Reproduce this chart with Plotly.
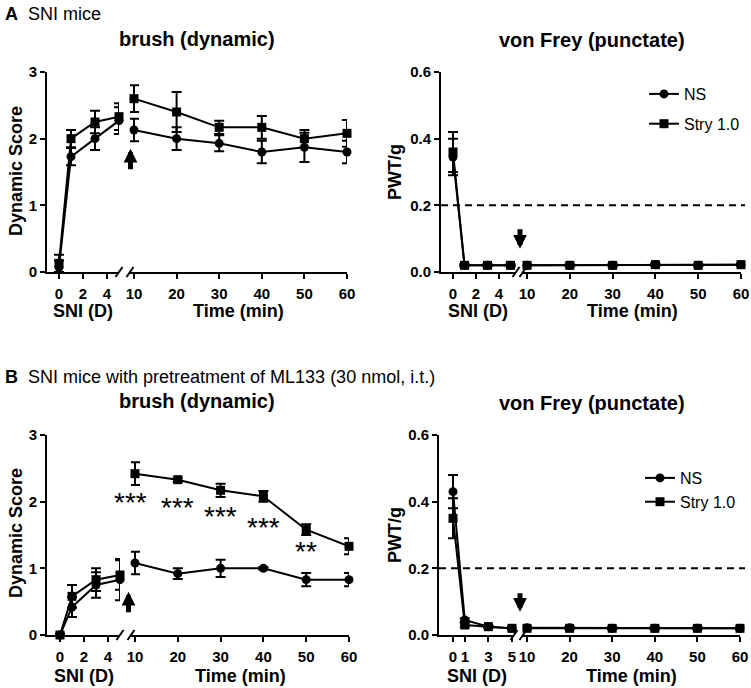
import plotly.graph_objects as go

W, H = 751, 688
FONT = "Liberation Sans"

# ---------------- data ----------------
days = [0, 1, 3, 5]
mins = [10, 20, 30, 40, 50, 60]

# Panel A - brush (dynamic score)
a_br_ns_d = [0.07, 1.73, 2.0, 2.27]
a_br_ns_d_err = [0.1, 0.13, 0.17, 0.2]
a_br_ns_m = [2.13, 2.0, 1.93, 1.8, 1.87, 1.8]
a_br_ns_m_err = [0.17, 0.17, 0.12, 0.17, 0.22, 0.17]
a_br_st_d = [0.13, 2.0, 2.25, 2.33]
a_br_st_d_err = [0.13, 0.13, 0.17, 0.2]
a_br_st_m = [2.6, 2.4, 2.17, 2.17, 2.0, 2.08]
a_br_st_m_err = [0.2, 0.3, 0.1, 0.17, 0.13, 0.2]

# Panel A - von Frey (PWT/g)
a_vf_ns_d = [0.345, 0.02, 0.02, 0.02]
a_vf_ns_d_err = [0.055, 0.003, 0.003, 0.003]
a_vf_ns_m = [0.02, 0.02, 0.02, 0.022, 0.02, 0.022]
a_vf_ns_m_err = [0.003, 0.003, 0.003, 0.003, 0.003, 0.003]
a_vf_st_d = [0.36, 0.02, 0.02, 0.02]
a_vf_st_d_err = [0.06, 0.003, 0.003, 0.003]
a_vf_st_m = [0.02, 0.02, 0.02, 0.022, 0.02, 0.022]
a_vf_st_m_err = [0.003, 0.003, 0.003, 0.003, 0.003, 0.003]

# Panel B - brush (dynamic score)
b_br_ns_d = [0.0, 0.42, 0.75, 0.83]
b_br_ns_d_err = [0.02, 0.15, 0.19, 0.31]
b_br_ns_m = [1.08, 0.92, 1.0, 1.0, 0.83, 0.83]
b_br_ns_m_err = [0.17, 0.08, 0.13, 0.02, 0.1, 0.1]
b_br_st_d = [0.0, 0.58, 0.83, 0.9]
b_br_st_d_err = [0.02, 0.17, 0.17, 0.22]
b_br_st_m = [2.42, 2.33, 2.17, 2.08, 1.58, 1.33]
b_br_st_m_err = [0.17, 0.03, 0.1, 0.08, 0.08, 0.12]

# Panel B - von Frey (PWT/g)
b_vf_ns_d = [0.43, 0.045, 0.025, 0.02]
b_vf_ns_d_err = [0.05, 0.005, 0.003, 0.003]
b_vf_ns_m = [0.022, 0.022, 0.02, 0.02, 0.02, 0.02]
b_vf_ns_m_err = [0.003, 0.003, 0.003, 0.003, 0.003, 0.003]
b_vf_st_d = [0.35, 0.03, 0.025, 0.02]
b_vf_st_d_err = [0.06, 0.005, 0.003, 0.003]
b_vf_st_m = [0.02, 0.02, 0.02, 0.02, 0.02, 0.02]
b_vf_st_m_err = [0.003, 0.003, 0.003, 0.003, 0.003, 0.003]

threshold = 0.2
sig_x = [10, 20, 30, 40, 50]
sig_y = [2.05, 1.98, 1.84, 1.68, 1.32]
sig_labels = ["***", "***", "***", "***", "**"]

series_names = ["NS", "Stry 1.0"]
symbols = ["circle", "square"]

# ---------------- layout geometry (window pixels) ----------------
def lin_range(p0, p1, va, pa, vb, pb):
    s = (vb - va) / (pb - pa)
    return [va + (p0 - pa) * s, va + (p1 - pa) * s]

panels = [
    dict(ypx=(72, 272), yrange=[0, 3], ytick=[0, 1, 2, 3], yfmt="{:.0f}",
         left=(47, 119, 0, 59, 4, 107), right=(130, 347, 10, 134, 60, 347),
         dticks=[0, 2, 4],
         data=[(a_br_ns_d, a_br_ns_d_err, a_br_ns_m, a_br_ns_m_err),
               (a_br_st_d, a_br_st_d_err, a_br_st_m, a_br_st_m_err)],
         legend=None),
    dict(ypx=(72, 272), yrange=[0, 0.6], ytick=[0, 0.2, 0.4, 0.6], yfmt="{:.1f}",
         left=(441, 516, 0, 453, 4, 499), right=(523, 741, 10, 527, 60, 741),
         dticks=[0, 2, 4],
         data=[(a_vf_ns_d, a_vf_ns_d_err, a_vf_ns_m, a_vf_ns_m_err),
               (a_vf_st_d, a_vf_st_d_err, a_vf_st_m, a_vf_st_m_err)],
         legend="legend"),
    dict(ypx=(435, 635), yrange=[0, 3], ytick=[0, 1, 2, 3], yfmt="{:.0f}",
         left=(47, 120, 0, 60, 4, 108), right=(131, 349, 10, 135, 60, 349),
         dticks=[0, 2, 4],
         data=[(b_br_ns_d, b_br_ns_d_err, b_br_ns_m, b_br_ns_m_err),
               (b_br_st_d, b_br_st_d_err, b_br_st_m, b_br_st_m_err)],
         legend=None),
    dict(ypx=(435, 635), yrange=[0, 0.6], ytick=[0, 0.2, 0.4, 0.6], yfmt="{:.1f}",
         left=(439, 514, 0, 453, 5, 512), right=(523, 740, 10, 527, 60, 740),
         dticks=[0, 1, 3, 5],
         data=[(b_vf_ns_d, b_vf_ns_d_err, b_vf_ns_m, b_vf_ns_m_err),
               (b_vf_st_d, b_vf_st_d_err, b_vf_st_m, b_vf_st_m_err)],
         legend="legend2"),
]

def nm(n):
    return "" if n == 1 else str(n)

def px_x(p):
    return p / W

def px_y(p):
    return 1 - p / H

fig = go.Figure()
layout = {}
shapes = []
annotations = []

axis_common = dict(showline=True, linewidth=2, linecolor="black", ticks="outside",
                   ticklen=5, tickwidth=2, tickcolor="black", showgrid=False,
                   zeroline=False, automargin=False,
                   tickfont=dict(family=FONT, size=15, color="black", weight="bold"))

def ann(text, xp, yp, size, **kw):
    d = dict(text=text, x=px_x(xp), y=px_y(yp), xref="paper", yref="paper",
             showarrow=False, xanchor="center", yanchor="middle",
             font=dict(family=FONT, size=size, color="black"))
    d.update(kw)
    annotations.append(d)

for i, P in enumerate(panels):
    yk = i + 1
    xl = 2 * i + 1
    xr = 2 * i + 2
    y0p, y1p = P["ypx"]
    L = P["left"]
    R = P["right"]
    layout["yaxis" + nm(yk)] = dict(
        domain=[px_y(y1p), px_y(y0p)], range=P["yrange"], anchor="x" + nm(xl),
        tickvals=P["ytick"], ticktext=[P["yfmt"].format(v) for v in P["ytick"]],
        **axis_common)
    layout["xaxis" + nm(xl)] = dict(
        domain=[px_x(L[0]), px_x(L[1])], range=lin_range(*L), anchor="y" + nm(yk),
        tickvals=P["dticks"], ticklabelstandoff=2, **axis_common)
    layout["xaxis" + nm(xr)] = dict(
        domain=[px_x(R[0]), px_x(R[1])], range=lin_range(*R), anchor="y" + nm(yk),
        tickvals=mins, ticklabelstandoff=2, **axis_common)

    for s, (dv, de, mv, me) in enumerate(P["data"]):
        style = dict(mode="lines+markers", line=dict(color="black", width=2),
                     marker=dict(symbol=symbols[s], size=9, color="black"),
                     cliponaxis=False, name=series_names[s])
        fig.add_trace(go.Scatter(
            x=days, y=dv, xaxis="x" + nm(xl), yaxis="y" + nm(yk), showlegend=False,
            error_y=dict(type="data", array=de, color="black", thickness=2, width=5),
            **style))
        fig.add_trace(go.Scatter(
            x=mins, y=mv, xaxis="x" + nm(xr), yaxis="y" + nm(yk),
            showlegend=P["legend"] is not None,
            legend=P["legend"] if P["legend"] else "legend",
            legendgroup="g%d_%d" % (i, s),
            error_y=dict(type="data", array=me, color="black", thickness=2, width=5),
            **style))

    # axis-break slashes
    for cx in (L[1], R[0]):
        shapes.append(dict(type="line", xref="paper", yref="paper",
                           x0=px_x(cx - 3.5), y0=px_y(y1p + 5),
                           x1=px_x(cx + 3.5), y1=px_y(y1p - 5),
                           line=dict(color="black", width=2)))

    # x axis titles
    ty = y1p + (39 if i < 2 else 41)
    ann("<b>SNI (D)</b>", (L[0] + L[1]) / 2, ty, 18)
    ann("<b>Time (min)</b>", (R[0] + R[1]) / 2, ty, 18)

# y axis titles
for txt, xp, yp in [("Dynamic Score", 16, 171), ("PWT/g", 395, 172),
                    ("Dynamic Score", 16, 533), ("PWT/g", 395, 535)]:
    ann("<b>%s</b>" % txt, xp, yp, 18, textangle=-90)

# panel titles
for txt, xp, yp in [("brush (dynamic)", 197, 39), ("von Frey (punctate)", 592, 40),
                    ("brush (dynamic)", 197, 401), ("von Frey (punctate)", 592, 403)]:
    ann("<b>%s</b>" % txt, xp, yp, 20)

for txt, yp in [("<b>A</b>  SNI mice", 14),
                ("<b>B</b>  SNI mice with pretreatment of ML133 (30 nmol, i.t.)", 377)]:
    ann(txt, 3, yp, 18, xanchor="left")

# significance stars (panel B brush, right segment)
sig_xshift = [-5, 0, 0, 0, 0]
for sx, sy, lab, xs in zip(sig_x, sig_y, sig_labels, sig_xshift):
    annotations.append(dict(text=lab, x=sx, y=sy, xref="x6", yref="y3", showarrow=False,
                            xanchor="center", yanchor="middle", yshift=-4, xshift=xs,
                            font=dict(family=FONT, size=28, color="black")))

# drug-injection arrows
for xp, yv, yref, ay in [(130.5, 1.85, "y", 22), (520, 0.07, "y2", -21),
                          (128.5, 0.65, "y3", 22), (520, 0.07, "y4", -20)]:
    annotations.append(dict(text="", x=px_x(xp), y=yv, xref="paper", yref=yref,
                            showarrow=True, ax=0, ay=ay, arrowhead=2, arrowsize=0.55,
                            arrowwidth=5, arrowcolor="black"))

# threshold dashed lines on von Frey panels
for yref, x0p, x1p in [("y2", 441, 745), ("y4", 439, 745)]:
    shapes.append(dict(type="line", xref="paper", yref=yref, x0=px_x(x0p), x1=px_x(x1p),
                       y0=threshold, y1=threshold,
                       line=dict(color="black", width=2, dash="7px,5px")))

leg_common = dict(xanchor="left", yanchor="top", bgcolor="rgba(0,0,0,0)",
                  font=dict(family=FONT, size=16, color="black"), itemwidth=30)
layout["legend"] = dict(x=px_x(644), y=px_y(77), tracegroupgap=6, **leg_common)
layout["legend2"] = dict(x=px_x(640), y=px_y(461), tracegroupgap=0, **leg_common)

fig.update_layout(width=W, height=H, autosize=False,
                  margin=dict(l=0, r=0, t=0, b=0, pad=0, autoexpand=False),
                  plot_bgcolor="white", paper_bgcolor="white",
                  shapes=shapes, annotations=annotations, **layout)

fig.write_html("out.html", config={"displayModeBar": False},
               post_script="document.body.style.margin='0';"
                           "document.body.style.overflow='hidden';")
